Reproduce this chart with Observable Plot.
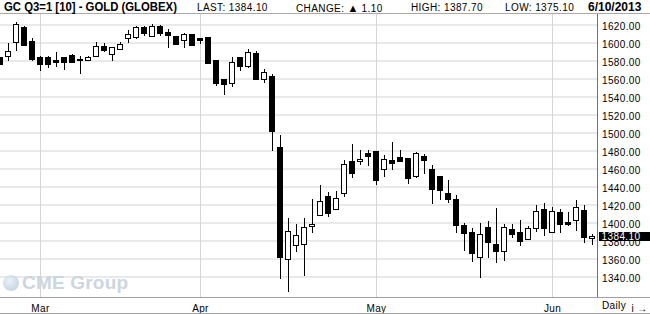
<!DOCTYPE html>
<html>
<head>
<meta charset="utf-8">
<script src="https://cdn.jsdelivr.net/npm/d3@7"></script>
<script src="https://cdn.jsdelivr.net/npm/@observablehq/plot@0.6"></script>
<style>
  html, body { margin: 0; padding: 0; background: #fff; }
  #wrap { position: relative; width: 650px; height: 314px; overflow: hidden; background: #fff; font-family: "Liberation Sans", Arial, sans-serif; }
  #hdr { position: absolute; left: 0; top: 0; width: 650px; height: 13px; border-bottom: 1px solid #a8a8a8; }
  #hdr span.item { position: absolute; white-space: nowrap; color: #000; }
  .reg { top: 2.5px; font-size: 10px; line-height: 10px; letter-spacing: 0.4px; }
  .bold { top: 1px; font-size: 12px; line-height: 12px; font-weight: bold; }
  .tri { font-size: 11px; letter-spacing: 0; }
  #chart { position: absolute; left: 0; top: 14px; }
  #wm { position: absolute; left: 2px; top: 273px; height: 20px; width: 140px; pointer-events: none; white-space: nowrap; }
  #wm .globe { position: absolute; left: 1px; top: 2px; width: 16px; height: 16px; border-radius: 50%;
    background: radial-gradient(circle at 40% 35%, #e4edf6 0%, #bccfe2 60%, #a9c0d8 100%); opacity: 0.75; }
  #wm .txt { position: absolute; left: 20px; top: 0px; font-size: 19px; line-height: 20px; font-weight: bold; color: #ccd6e0; letter-spacing: 0.2px; white-space: nowrap; }
  #lastbox { position: absolute; left: 599px; width: 51px; height: 9px; background: #000; color: #fff;
    font-size: 10px; line-height: 9px; letter-spacing: 0.4px; padding-left: 2.5px; box-sizing: border-box; white-space: nowrap; }
</style>
</head>
<body>
<div id="wrap">
  <div id="hdr"></div>
  <div id="chart"></div>
  <div id="wm"><div class="globe"></div><div class="txt">CME Group</div></div>
  <div id="lastbox"></div>
</div>
<script>
// ---- data ----
const title = "GC Q3=1 [10] - GOLD (GLOBEX)";
const dates = [
  "2013-02-22","2013-02-25","2013-02-26","2013-02-27","2013-02-28",
  "2013-03-01","2013-03-04","2013-03-05","2013-03-06","2013-03-07","2013-03-08",
  "2013-03-11","2013-03-12","2013-03-13","2013-03-14","2013-03-15",
  "2013-03-18","2013-03-19","2013-03-20","2013-03-21","2013-03-22",
  "2013-03-25","2013-03-26","2013-03-27","2013-03-28",
  "2013-04-01","2013-04-02","2013-04-03","2013-04-04","2013-04-05",
  "2013-04-08","2013-04-09","2013-04-10","2013-04-11","2013-04-12",
  "2013-04-15","2013-04-16","2013-04-17","2013-04-18","2013-04-19",
  "2013-04-22","2013-04-23","2013-04-24","2013-04-25","2013-04-26",
  "2013-04-29","2013-04-30",
  "2013-05-01","2013-05-02","2013-05-03",
  "2013-05-06","2013-05-07","2013-05-08","2013-05-09","2013-05-10",
  "2013-05-13","2013-05-14","2013-05-15","2013-05-16","2013-05-17",
  "2013-05-20","2013-05-21","2013-05-22","2013-05-23","2013-05-24",
  "2013-05-28","2013-05-29","2013-05-30","2013-05-31",
  "2013-06-03","2013-06-04","2013-06-05","2013-06-06","2013-06-07",
  "2013-06-10"
];
const open = [
  1583,1584,1600,1617,1601.5,
  1583.7,1583.7,1579.6,1583,1585.6,1581.5,
  1580.4,1584.4,1596,1586.7,1592.6,
  1605,1606,1616.3,1607,1618.1,
  1610.7,1607,1602.6,1608.5,
  1604,1605.2,1579.6,1559.1,1554.3,
  1583.6,1572.9,1587.7,1558.7,1562.5,
  1483.6,1358.4,1374,1376,1395,
  1407.5,1428.5,1414,1432,1468,
  1467.3,1476.6,
  1478.4,1458.7,1469,
  1472.4,1471,1451.6,1473.5,1459,
  1451.6,1432.6,1425.6,1396.6,1388.4,
  1361.3,1394.7,1375,1368,1392.1,
  1389.1,1380.6,1392.9,1414,
  1388.4,1411.4,1399.6,1402.2,1413.3,
  1382.5
];
const high = [
  1584,1600,1623,1618,1605,
  1585,1585.5,1589,1584.4,1587.4,1585.5,
  1585.5,1600.4,1600,1595,1600.4,
  1614,1618.5,1618,1620.7,1619,
  1615,1607.5,1610.7,1609.6,
  1604.5,1605.5,1580,1559.5,1583.6,
  1584,1592.6,1590.3,1570.3,1565.4,
  1496.7,1404.8,1398,1404.7,1426.5,
  1441.3,1434,1435.5,1470,1487,
  1480.3,1481,
  1479,1474.6,1489,
  1480.2,1471.5,1478.4,1476.5,1463.5,
  1452,1446.8,1430.8,1399.2,1394,
  1399.6,1402.2,1416,1398.4,1398.4,
  1403,1396.6,1419,1422,
  1417,1415.2,1411.4,1424.5,1419,
  1387.7
];
const low = [
  1575,1580,1591,1596,1579,
  1568,1572,1572.6,1570,1577.5,1565,
  1580,1584,1590,1580,1592,
  1599,1603.7,1607,1606,1607,
  1593.7,1597.5,1594.4,1596,
  1598,1576.6,1551.7,1541.3,1550.6,
  1568.4,1571.7,1558,1555.4,1479.2,
  1337.5,1323,1367,1341,1388,
  1407,1406,1413.5,1428.3,1449.4,
  1464.3,1462.5,
  1441.2,1450.5,1458,
  1467,1442.3,1449.7,1453.5,1420,
  1425.2,1421.5,1388,1368.7,1355.7,
  1337.8,1360,1354.6,1356.8,1382.8,
  1374.3,1380,1389,1384.7,
  1388,1388,1396.5,1391,1377,
  1375.1
];
const close = [
  1576,1590,1620,1597,1581,
  1575.2,1575.6,1577.8,1577.8,1577.8,1580.4,
  1583.3,1596,1591,1594.8,1597.4,
  1609.3,1616.3,1610.4,1618.1,1609.6,
  1608.1,1597.8,1609.3,1596.7,
  1602.6,1576.8,1554.3,1552.8,1577.7,
  1572.9,1588.8,1559.1,1566.5,1501.5,
  1361,1389.6,1385,1394.7,1397.5,
  1423.4,1409.7,1426.3,1464.3,1454.3,
  1470,1473,
  1446.8,1469.8,1465.4,
  1468.3,1449.4,1476.5,1469,1436.7,
  1435,1425.2,1396.6,1387.3,1365.7,
  1386.5,1378,1368,1394,1386.5,
  1379.1,1392.9,1412.6,1392.9,
  1412.6,1397.3,1397.7,1416.3,1383,
  1384.1
];
const yTicks = [1340,1360,1380,1400,1420,1440,1460,1480,1500,1520,1540,1560,1580,1600,1620];
const monthTickDates = ["2013-03-01","2013-04-01","2013-05-01","2013-06-03"];
const monthLabels = ["Mar","Apr","May","Jun"];
const periodLabel = "Daily";

// ---- build table ----
const candles = dates.map((d, i) => ({i, date: d, open: open[i], high: high[i], low: low[i], close: close[i]}));
const monthIdx = monthTickDates.map(d => dates.indexOf(d));
const n = candles.length;
const last = candles[n - 1];
const prev = candles[n - 2];

// ---- header ----
const fmt2 = d3.format(".2f");
const [yy, mm, dd] = last.date.split("-").map(Number);
const hdr = document.getElementById("hdr");
function addSpan(cls, left, parts, extra) {
  const s = document.createElement("span");
  s.className = "item " + cls;
  s.style.left = left + "px";
  for (const p of parts) {
    if (typeof p === "string") s.appendChild(document.createTextNode(p));
    else { const t = document.createElement("span"); t.className = p.cls; t.textContent = p.text; s.appendChild(t); }
  }
  if (extra) Object.assign(s.style, extra);
  hdr.appendChild(s);
  return s;
}
addSpan("bold", 3.5, [title], {transform: "scaleX(0.945)", transformOrigin: "left center"});
addSpan("reg", 197, ["LAST: " + fmt2(last.close)]);
const ch = last.close - prev.close;
addSpan("reg", 296, ["CHANGE: ", {cls: "tri", text: ch >= 0 ? "\u25B2" : "\u25BC"}, " " + fmt2(Math.abs(ch))]);
addSpan("reg", 411, ["HIGH: " + fmt2(last.high)]);
addSpan("reg", 505, ["LOW: " + fmt2(last.low)]);
addSpan("bold", 588, [mm + "/" + dd + "/" + yy]);

// ---- chart ----
const W = 650, H = 300, mR = 53, mB = 17;
const xMax = (W - mR) / 8; // 8px per trading day
const chart = Plot.plot({
  width: W,
  height: H,
  marginLeft: 0,
  marginRight: mR,
  marginTop: 0,
  marginBottom: mB,
  style: {fontFamily: "'Liberation Sans', Arial, sans-serif", fontSize: "10px", background: "#fff", overflow: "visible", letterSpacing: "0.35px", color: "#000"},
  x: {type: "linear", domain: [0, xMax], axis: null},
  y: {domain: [1317.2, 1631.7], axis: null},
  marks: [
    Plot.gridY(yTicks, {stroke: "#d4d4d4", strokeOpacity: 1}),
    Plot.gridX(monthIdx, {stroke: "#d4d4d4", strokeOpacity: 1}),
    Plot.ruleX(candles, {x: "i", y1: "low", y2: "high", stroke: "#000", strokeWidth: 1, shapeRendering: "crispEdges"}),
    Plot.rect(candles, {
      x1: d => d.i - 0.3125, x2: d => d.i + 0.3125,
      y1: "open", y2: "close",
      fill: d => d.close < d.open ? "#000" : "#fff",
      stroke: "#000", strokeWidth: 1, shapeRendering: "crispEdges"
    }),
    Plot.ruleX([xMax], {stroke: "#707070"}),
    Plot.axisY(yTicks, {anchor: "right", tickSize: 0, tickPadding: 4.5, tickFormat: d => fmt2(d), fill: "#000", dy: 1.5}),
    Plot.axisX(monthIdx, {anchor: "bottom", tickSize: 0, tickPadding: 7, tickFormat: d => monthLabels[monthIdx.indexOf(d)], fill: "#000"})
  ]
});
document.getElementById("chart").appendChild(chart);

const svg = d3.select(chart);
const yS = chart.scale("y");
const plotBottom = H - mB;
// axis line and bottom line across full width
svg.append("line").attr("x1", 0).attr("x2", W).attr("y1", plotBottom + 0.5).attr("y2", plotBottom + 0.5).attr("stroke", "#a0a0a0");
svg.append("line").attr("x1", 0).attr("x2", W).attr("y1", H - 0.5).attr("y2", H - 0.5).attr("stroke", "#a0a0a0");
// period label
svg.append("text").attr("x", W - mR + 5).attr("y", plotBottom + 9.5).attr("text-anchor", "start")
  .attr("dominant-baseline", "middle").attr("fill", "#000").text(periodLabel);
// last price box (HTML overlay positioned with the y scale)
const yl = Math.round(yS.apply(last.close)) + 14;
const box = document.getElementById("lastbox");
box.style.top = (yl - 5) + "px";
box.textContent = fmt2(last.close);
</script>
</body>
</html>
